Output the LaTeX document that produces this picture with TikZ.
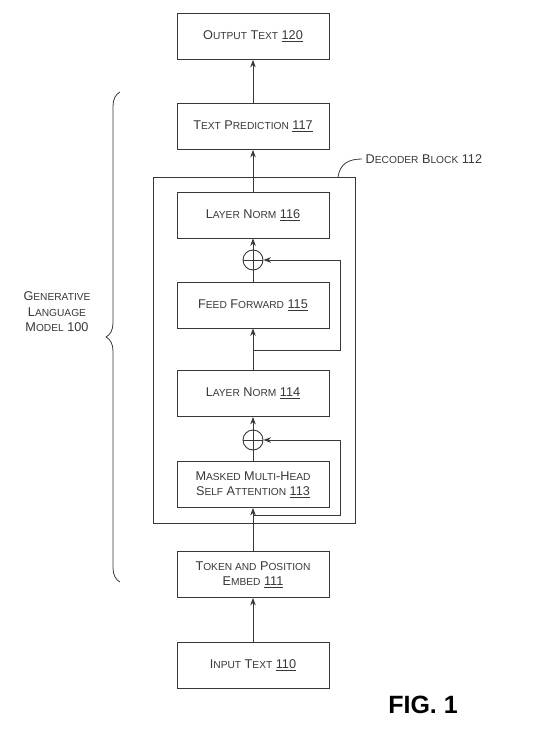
\documentclass[tikz,border=0pt]{standalone}
\usepackage{fontspec}
\setmainfont{Liberation Sans}
\usetikzlibrary{arrows.meta,decorations.pathreplacing}
\newcommand{\sm}[1]{{\fontsize{10.2}{12}\selectfont #1}}
\tikzset{
  blk/.style={draw, minimum width=152pt, minimum height=46pt, align=center},
  add/.style={draw, circle, minimum size=20pt, inner sep=0pt, line width=0.9pt,
    path picture={\draw (path picture bounding box.north) -- (path picture bounding box.south)
      (path picture bounding box.west) -- (path picture bounding box.east);}},
  flow/.style={-{Stealth[length=7.5pt,width=5.5pt]}},
}
\begin{document}
\begin{tikzpicture}[x=1pt,y=-1pt,line width=0.8pt,color=black!78,
  font=\fontsize{12.7}{15.5}\selectfont]
\useasboundingbox (0,0) rectangle (551,743);
% boxes
\node[blk] (out) at (253,36.5) {O\sm{UTPUT} T\sm{EXT} \underline{120}};
\node[blk] (pred) at (253,126.5) {T\sm{EXT} P\sm{REDICTION} \underline{117}};
\node[draw, minimum width=202pt, minimum height=346pt] (dec) at (254,350) {};
\node[blk] (ln2) at (253,215) {L\sm{AYER} N\sm{ORM} \underline{116}};
\node[add] (add2) at (253,260) {};
\node[blk] (ff) at (253,305) {F\sm{EED} F\sm{ORWARD} \underline{115}};
\node[blk] (ln1) at (253,393.5) {L\sm{AYER} N\sm{ORM} \underline{114}};
\node[add] (add1) at (253,440) {};
\node[blk] (mha) at (253,484.5) {M\sm{ASKED} M\sm{ULTI}-H\sm{EAD}\\S\sm{ELF} A\sm{TTENTION} \underline{113}};
\node[blk] (emb) at (253,574.5) {T\sm{OKEN AND} P\sm{OSITION}\\E\sm{MBED} \underline{111}};
\node[blk] (inp) at (253,665.5) {I\sm{NPUT} T\sm{EXT} \underline{110}};
% residual taps
\coordinate (tap1) at (253,515);
\coordinate (ret1) at (340,515);
\coordinate (tap2) at (253,350);
\coordinate (ret2) at (340,350);
% flow
\draw[flow] (inp) -- (emb);
\draw[flow] (emb) -- (mha);
\draw[flow] (tap1) -- (ret1) |- (add1);
\draw (mha) -- (add1);
\draw[flow] (add1) -- (ln1);
\draw[flow] (ln1) -- (ff);
\draw[flow] (tap2) -- (ret2) |- (add2);
\draw (ff) -- (add2);
\draw[flow] (add2) -- (ln2);
\draw[flow] (ln2) -- (pred);
\draw[flow] (pred) -- (out);
% decoder label
\node[anchor=west] (declbl) at (362,159) {D\sm{ECODER} B\sm{LOCK} 112};
\coordinate (decpt) at (338,177);
\draw (decpt) .. controls (340,164) and (348,159) .. (declbl.west);
% brace
\coordinate (bbot) at (120,582);
\coordinate (btop) at (120,92);
\draw[decorate, decoration={brace, amplitude=14pt}] (bbot) -- (btop);
\node[align=center] (glm) at (57,312) {G\sm{ENERATIVE}\\L\sm{ANGUAGE}\\M\sm{ODEL} 100};
\node[font=\fontsize{25}{30}\selectfont\bfseries, text=black] (fig) at (423,705) {FIG. 1};
\end{tikzpicture}
\end{document}
